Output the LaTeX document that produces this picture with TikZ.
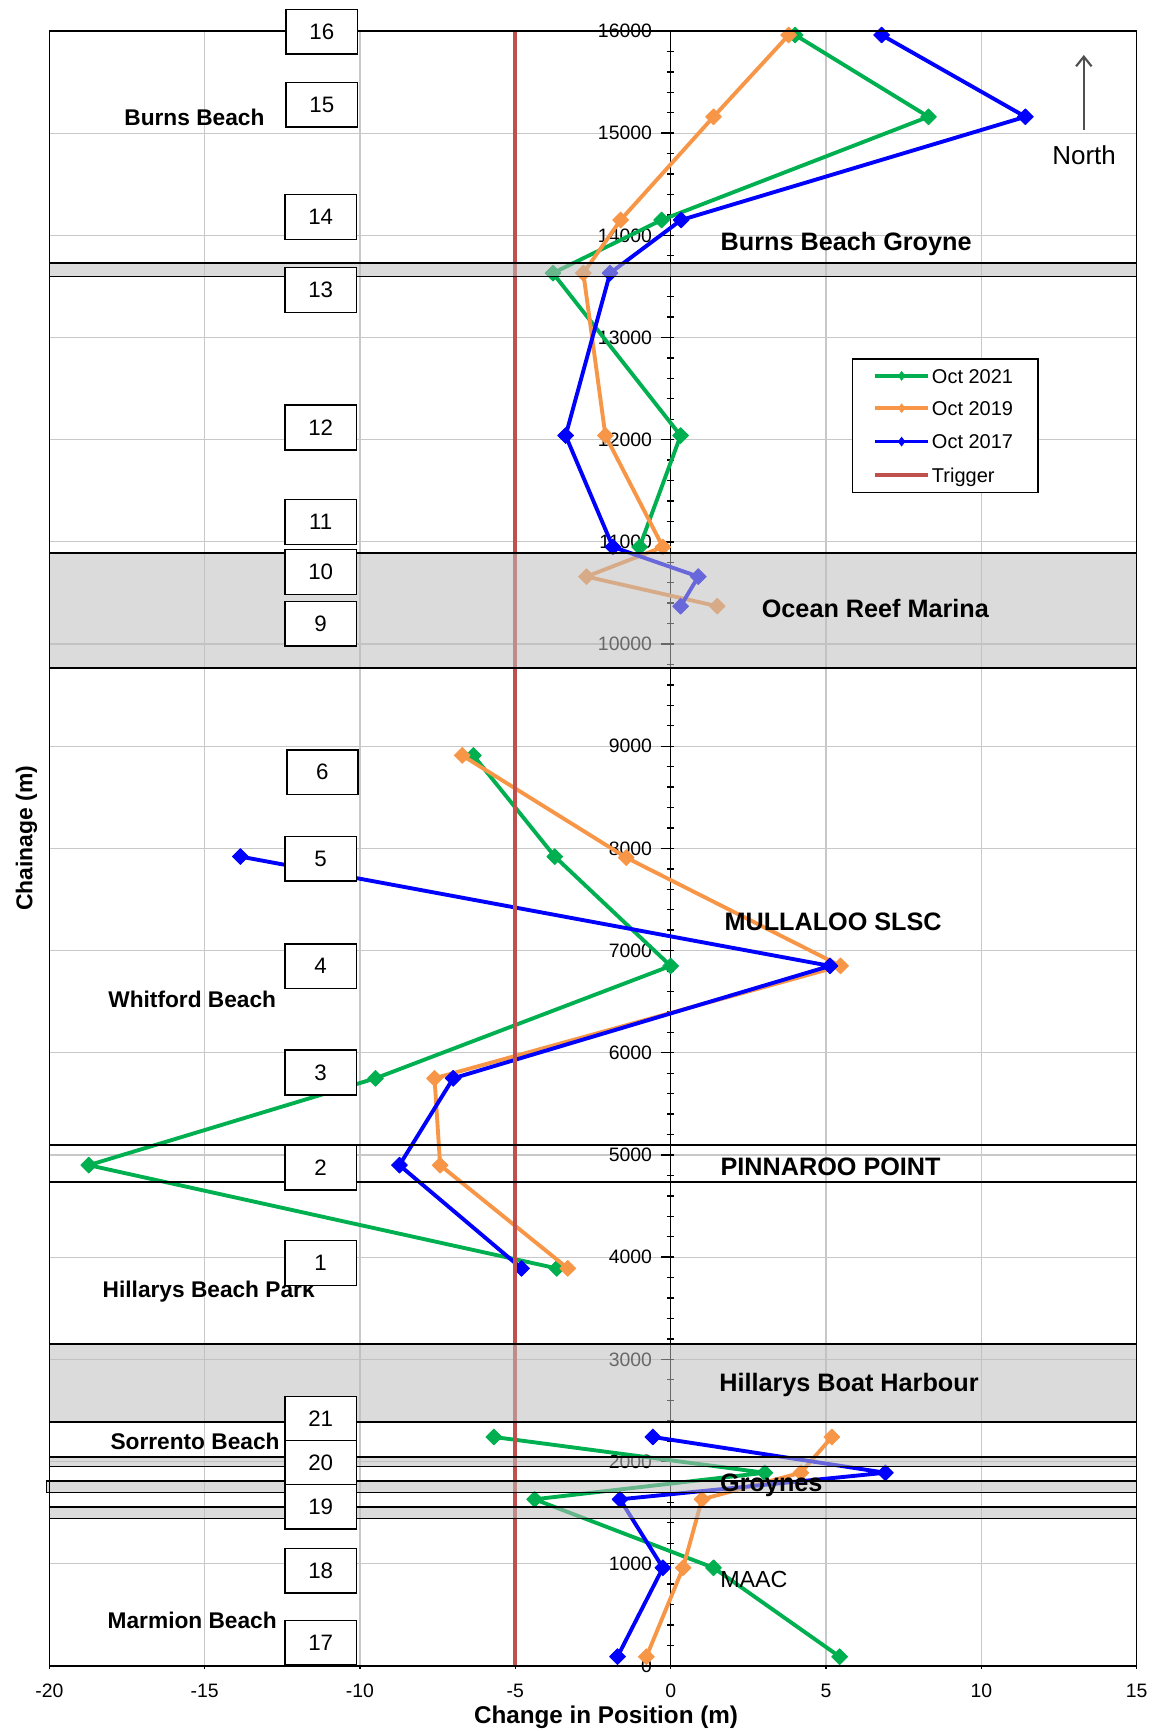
\documentclass[tikz,border=0pt]{standalone}
\usepackage{fontspec}
\setmainfont{Liberation Sans}
\usepackage{tikz}
\usetikzlibrary{arrows.meta, plotmarks}
\definecolor{oct21}{RGB}{0,176,80}
\definecolor{oct19}{RGB}{247,150,70}
\definecolor{oct17}{RGB}{0,0,255}
\definecolor{trigger}{RGB}{192,80,77}
\definecolor{gridgray}{RGB}{200,200,200}
\definecolor{bandgray}{RGB}{190,190,190}
\definecolor{northgray}{RGB}{80,80,80}

\begin{document}
\begin{tikzpicture}[
  x=0.5628cm, y=1.8512cm,
  gridline/.style={draw=gridgray, line width=0.6pt},
  plotframe/.style={draw=black, line width=0.85pt},
  series/.style={draw=#1, line width=2pt, line join=round,
                 mark=square*, mark size=2.9pt,
                 mark options={solid, rotate=45, line width=0.4pt, fill=#1, draw=#1}},
  triggerline/.style={draw=trigger, line width=2.2pt},
  band/.style={draw=black, line width=0.85pt, fill=bandgray, fill opacity=0.55},
  bandline/.style={draw=black, line width=0.85pt},
  sitebox/.style={draw=black, fill=white, line width=0.75pt,
                  minimum width=1.288cm, minimum height=0.81cm, inner sep=0pt,
                  font=\fontsize{11.5}{13}\selectfont},
  site/.style={font=\fontsize{13}{15}\selectfont\bfseries, inner sep=0pt, text depth=0pt},
  beach/.style={font=\fontsize{11.7}{14}\selectfont\bfseries, inner sep=0pt, text depth=0pt},
  ticklbl/.style={font=\fontsize{10}{12}\selectfont, inner sep=0pt, text depth=0pt},
  legtext/.style={font=\fontsize{10.3}{12}\selectfont, inner sep=0pt, anchor=west,
                  text height=7.4pt, text depth=0pt},
  axistitle/.style={font=\fontsize{12.5}{14}\selectfont\bfseries, inner sep=0pt, text depth=0pt},
]
\useasboundingbox (-21.588,-0.6374) rectangle (15.583,16.303);

% Grid
\foreach \x in {-15,-10,-5,5,10} \draw[gridline] (\x,0) -- (\x,16);
\foreach \c in {1,...,15} \draw[gridline] (-20,\c) -- (15,\c);

% Chainage axis (x = 0)
\draw[line width=0.85pt] (0,0) -- (0,16);
\foreach \c in {0,...,16} \draw[line width=0.7pt] (0,\c) -- ++(-0.30,0);
\foreach \c in {0.2,0.4,...,15.9} \draw[line width=0.7pt] (-0.11,\c) -- (0.11,\c);
\foreach \c [evaluate=\c as \lbl using int(\c*1000)] in {0,...,16}
  \node[ticklbl, anchor=east] (yt\c) at (-0.59,\c) {\lbl};

% Series
\draw[series=oct21] plot coordinates {(4.01,15.96) (8.30,15.16) (-0.29,14.15) (-3.79,13.63) (0.32,12.04) (-1.00,10.95)};
\draw[series=oct21] plot coordinates {(-6.35,8.91) (-3.73,7.92) (0.0,6.85) (-9.50,5.75) (-18.73,4.90) (-3.67,3.89)};
\draw[series=oct21] plot coordinates {(-5.69,2.24) (3.03,1.89) (-4.38,1.63) (1.38,0.96) (5.44,0.09)};

\draw[series=oct19] plot coordinates {(3.80,15.96) (1.38,15.16) (-1.61,14.15) (-2.81,13.63) (-2.10,12.04) (-0.25,10.95) (-2.71,10.66) (1.50,10.37)};
\draw[series=oct19] plot coordinates {(-6.71,8.91) (-1.43,7.91) (5.47,6.85) (-7.60,5.75) (-7.42,4.90) (-3.31,3.89)};
\draw[series=oct19] plot coordinates {(5.19,2.24) (4.19,1.89) (1.01,1.63) (0.40,0.96) (-0.78,0.09)};

\draw[series=oct17] plot coordinates {(6.79,15.96) (11.42,15.16) (0.34,14.15) (-1.95,13.63) (-3.38,12.04) (-1.86,10.95) (0.89,10.66) (0.32,10.37)};
\draw[series=oct17] plot coordinates {(-13.85,7.92) (5.13,6.85) (-7.00,5.75) (-8.73,4.90) (-4.80,3.89)};
\draw[series=oct17] plot coordinates {(-0.57,2.24) (6.91,1.89) (-1.63,1.63) (-0.25,0.96) (-1.71,0.09)};

% Trigger
\draw[triggerline] (-5,0) -- (-5,16);

% Groynes, marina, harbour
\draw[band] (-20,13.596) rectangle (15,13.726);
\draw[band] (-20,9.763) rectangle (15,10.889);
\draw[bandline] (-20,4.735) rectangle (15,5.099);
\draw[band] (-20,2.387) rectangle (15,3.149);
\draw[band] (-20,1.952) rectangle (15,2.044);
\draw[band] (-20.09,1.698) rectangle (15,1.810);
\draw[band] (-20,1.443) rectangle (15,1.556);

% Frame and position axis
\draw[plotframe] (-20,0) rectangle (15,16);
\foreach \x in {-20,-15,...,15} {
  \draw[line width=0.7pt] (\x,0) -- (\x,-0.035);
  \node[ticklbl] (xt\x) at (\x,-0.248) {\x};
}
\node[axistitle] (xtitle) at (-2.08,-0.475) {Change in Position (m)};
\node[axistitle, font=\fontsize{11.8}{14}\selectfont\bfseries, rotate=90] (ytitle) at (-20.81,8.10) {Chainage (m)};

% Places
\node[beach] (burns) at (-15.33,15.152) {Burns Beach};
\node[site] (bbgroyne) at (5.65,13.937) {Burns Beach Groyne};
\node[site] (marina) at (6.59,10.350) {Ocean Reef Marina};
\node[site] (mullaloo) at (5.23,7.282) {MULLALOO SLSC};
\node[beach] (whitford) at (-15.40,6.525) {Whitford Beach};
\node[site] (pinnaroo) at (5.15,4.883) {PINNAROO POINT};
\node[beach] (hillpark) at (-14.87,3.681) {Hillarys Beach Park};
\node[site] (harbour) at (5.74,2.771) {Hillarys Boat Harbour};
\node[beach] (sorrento) at (-15.31,2.197) {Sorrento Beach};
\node[site] (groynes) at (3.24,1.790) {Groynes};
\node[site, font=\fontsize{12}{14}\selectfont] (maac) at (2.68,0.843) {MAAC};
\node[beach] (marmion) at (-15.40,0.443) {Marmion Beach};

% North arrow
\draw[northgray, line width=1.1pt, -{Straight Barb[length=5pt, width=8pt]}] (13.30,15.03) -- (13.30,15.765);
\node[font=\fontsize{13.4}{15}\selectfont, inner sep=0pt, text depth=0pt] (north) at (13.31,14.786) {North};

% Profile boxes
\node[sitebox] (b16) at (-11.23,15.993) {16};
\node[sitebox] (b15) at (-11.23,15.279) {15};
\node[sitebox] (b14) at (-11.265,14.178) {14};
\node[sitebox] (b13) at (-11.265,13.464) {13};
\node[sitebox] (b12) at (-11.265,12.119) {12};
\node[sitebox] (b11) at (-11.265,11.195) {11};
\node[sitebox] (b10) at (-11.265,10.704) {10};
\node[sitebox] (b9) at (-11.265,10.199) {9};
\node[sitebox] (b6) at (-11.21,8.745) {6};
\node[sitebox] (b5) at (-11.265,7.898) {5};
\node[sitebox] (b4) at (-11.265,6.846) {4};
\node[sitebox] (b3) at (-11.265,5.807) {3};
\node[sitebox] (b2) at (-11.265,4.875) {2};
\node[sitebox] (b1) at (-11.265,3.943) {1};
\node[sitebox] (b21) at (-11.265,2.418) {21};
\node[sitebox] (b20) at (-11.265,1.988) {20};
\node[sitebox] (b19) at (-11.265,1.556) {19};
\node[sitebox] (b18) at (-11.265,0.932) {18};
\node[sitebox] (b17) at (-11.265,0.227) {17};

% Legend
\node[draw=black, fill=white, line width=0.8pt, minimum width=3.354cm, minimum height=2.416cm, inner sep=0pt] (legend) at (8.84,12.1345) {};
\foreach \col/\yy/\txt/\nm in {oct21/12.624/Oct 2021/l21, oct19/12.308/Oct 2019/l19, oct17/11.981/Oct 2017/l17} {
  \draw[\col, line width=1.9pt] (6.59,\yy) -- (8.28,\yy);
  \path[mark=diamond*, mark size=2.2pt, mark options={fill=\col, draw=\col}] plot coordinates {(7.435,\yy)};
  \node[legtext] (\nm) at (8.40,\yy) {\txt};
}
\draw[trigger, line width=1.9pt] (6.59,11.655) -- (8.28,11.655);
\node[legtext] (ltrig) at (8.40,11.655) {Trigger};

\end{tikzpicture}
\end{document}
